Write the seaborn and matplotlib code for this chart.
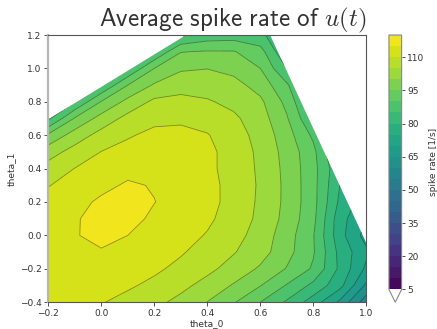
import numpy as np
import matplotlib.pyplot as plt
import seaborn as sns
from matplotlib.patches import Polygon

# grid of the parameter scan
theta_0 = [-0.2, -0.1, 0.0, 0.1, 0.2, 0.3, 0.4, 0.5, 0.6, 0.7, 0.8, 0.9, 1.0]
theta_1 = [-0.4, -0.3, -0.2, -0.1, 0.0, 0.1, 0.2, 0.3, 0.4, 0.5, 0.6, 0.7, 0.8, 0.9, 1.0, 1.1, 1.2]

# average spike rate [1/s], one row per theta_1 value
rate = [
    [112.0, 111.2, 110.3, 108.4, 106.3, 103.6, 99.9, 95.4, 90.0, 84.3, 77.5, 69.0, 57.0],
    [112.8, 112.5, 111.8, 110.7, 108.8, 106.3, 103.3, 99.5, 95.2, 89.6, 83.7, 76.7, 64.0],
    [113.5, 113.3, 113.0, 112.0, 110.9, 108.7, 106.2, 103.1, 99.3, 94.7, 89.3, 79.0, 69.0],
    [113.8, 114.3, 114.6, 113.8, 112.2, 110.5, 107.9, 105.3, 102.1, 96.7, 90.5, 78.5, 71.0],
    [113.8, 114.7, 116.3, 115.0, 113.0, 111.6, 109.7, 106.8, 102.9, 97.3, 90.3, 76.8, 68.0],
    [113.0, 114.6, 116.5, 116.6, 114.1, 112.5, 110.8, 108.0, 103.8, 98.4, 91.3, 77.0, 70.0],
    [111.5, 113.5, 115.8, 116.8, 115.1, 113.3, 111.4, 108.5, 104.1, 98.8, 91.7, 79.0, 72.0],
    [109.8, 111.8, 113.8, 115.6, 114.7, 113.4, 111.3, 108.6, 104.3, 98.8, 91.7, 80.0, 76.0],
    [107.0, 110.1, 112.3, 113.6, 113.5, 112.6, 111.0, 108.3, 104.1, 98.6, 91.7, 81.0, 80.0],
    [102.8, 106.9, 110.1, 111.6, 112.4, 112.0, 111.0, 108.3, 103.8, 98.2, 91.4, 78.0, 80.0],
    [95.9, 102.3, 106.8, 109.5, 111.2, 111.4, 110.3, 107.2, 103.3, 97.2, 89.0, 80.0, 80.0],
    [84.0, 95.5, 101.9, 106.6, 108.8, 109.1, 108.0, 105.9, 102.3, 95.5, 85.0, 80.0, 80.0],
    [80.0, 85.0, 95.3, 101.5, 106.1, 106.4, 105.5, 103.7, 101.0, 93.6, 82.0, 80.0, 80.0],
    [80.0, 80.0, 85.0, 95.0, 100.6, 103.2, 102.8, 101.7, 98.0, 90.8, 80.0, 80.0, 80.0],
    [80.0, 80.0, 80.0, 85.0, 95.0, 99.3, 99.9, 98.5, 95.0, 85.0, 80.0, 80.0, 80.0],
    [80.0, 80.0, 80.0, 80.0, 85.0, 94.8, 95.4, 95.3, 92.0, 80.0, 80.0, 80.0, 80.0],
    [80.0, 80.0, 80.0, 80.0, 80.0, 84.0, 87.0, 87.5, 86.0, 81.0, 80.0, 80.0, 80.0],
]

# corners of the region where the scan gave a rate (white outside)
valid_theta_0 = [-0.2, 1.0, 1.0, 0.637, 0.32, -0.2]
valid_theta_1 = [-0.4, -0.4, -0.045, 1.2, 1.2, 0.695]

levels = list(range(5, 125, 5))
cbar_ticks = [5, 20, 35, 50, 65, 80, 95, 110]

sns.set_theme(style='ticks')
plt.rcParams['mathtext.fontset'] = 'cm'

fig = plt.figure(figsize=(4.37, 3.29), dpi=100)
ax = fig.add_axes([0.1105, 0.0815, 0.7277, 0.8121])
cax = fig.add_axes([0.890, 0.0815, 0.029, 0.8121])

cmap = sns.color_palette('viridis', as_cmap=True).copy()
cmap.set_under('white')

Z = np.array(rate)
cf = ax.contourf(theta_0, theta_1, Z, levels=levels, cmap=cmap, extend='min')
cl = ax.contour(theta_0, theta_1, Z, levels=levels, colors='k', linewidths=0.6, alpha=0.45)

region = Polygon(np.column_stack([valid_theta_0, valid_theta_1]), closed=True,
                 transform=ax.transData, facecolor='none', edgecolor='none')
ax.add_patch(region)
cf.set_clip_path(region)
cl.set_clip_path(region)

ax.set_xlim(-0.2, 1.0)
ax.set_ylim(-0.4, 1.2)
ax.set_xticks([-0.2, 0.0, 0.2, 0.4, 0.6, 0.8, 1.0])
ax.set_yticks([-0.4, -0.2, 0.0, 0.2, 0.4, 0.6, 0.8, 1.0, 1.2])
ax.tick_params(labelsize=6.5, length=3, width=0.6, pad=2, colors='#333333')
ax.set_xlabel('theta_0', fontsize=6.5, labelpad=1, color='#333333')
ax.set_ylabel('theta_1', fontsize=6.5, labelpad=3, color='#333333')
for side in ['top', 'right', 'bottom']:
    ax.spines[side].set_color('#555555')
    ax.spines[side].set_linewidth(0.8)
ax.spines['left'].set_color('#b5b5b5')
ax.spines['left'].set_linewidth(1.6)

ax.set_title(r'$\mathsf{Average\ spike\ rate\ of}\ u(t)$', fontsize=18,
             loc='right', color='#333333', pad=6)

cb = fig.colorbar(cf, cax=cax, ticks=cbar_ticks, extend='min')
cb.set_label('spike rate [1/s]', fontsize=6.5, color='#333333', labelpad=3)
cb.ax.tick_params(labelsize=6.5, length=2.5, width=0.6, pad=1.5, colors='#333333')
cb.outline.set_edgecolor('#888888')
cb.outline.set_linewidth(0.8)

fig.savefig('out.png', dpi=100)
